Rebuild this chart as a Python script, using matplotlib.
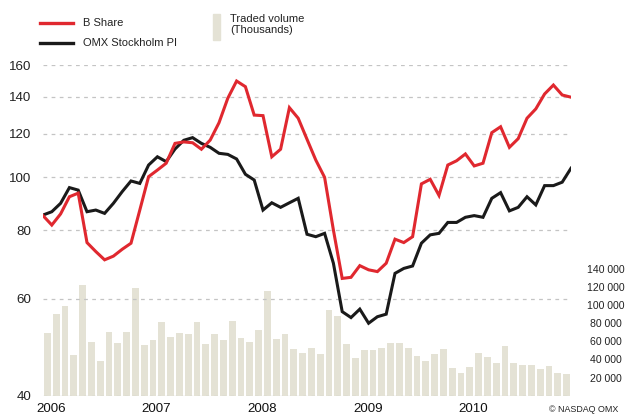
# *****************************************************************************

import matplotlib
matplotlib.use('Agg')

import numpy as np
import matplotlib.pyplot as plt
from matplotlib.lines import Line2D
from matplotlib.patches import Rectangle
from matplotlib.ticker import NullLocator

# *****************************************************************************

# Monthly values, Jan 2006 .. Jan 2011 (61 points)
B_SHARE = [85.1, 81.8, 85.7, 92.1, 93.5, 76.0, 73.2, 70.7, 71.8, 73.9,
           75.8, 87.1, 100.2, 103.0, 106.0, 115.2, 115.9, 115.5, 112.4, 116.8,
           125.6, 139.2, 149.6, 146.1, 129.7, 129.4, 108.9, 112.4, 133.8, 128.0,
           117.2, 107.4, 99.9, 80.1, 65.4, 65.7, 69.0, 67.8, 67.3, 69.7,
           77.1, 76.0, 77.9, 97.2, 99.1, 92.6, 105.2, 107.1, 110.2, 104.8,
           106.0, 120.5, 123.5, 113.3, 117.5, 128.0, 133.1, 141.7, 147.1, 141.1,
           139.8]

OMX_PI = [85.3, 86.5, 89.6, 95.7, 94.7, 86.5, 87.1, 85.9, 89.6, 94.1,
          98.4, 97.4, 105.2, 108.9, 106.7, 112.5, 116.7, 118.0, 115.2, 113.3,
          110.5, 110.0, 107.9, 101.2, 98.8, 87.1, 89.8, 88.1, 89.8, 91.5,
          78.7, 77.9, 79.0, 69.7, 56.9, 55.5, 57.5, 54.2, 55.7, 56.3,
          66.8, 68.2, 68.9, 75.8, 78.5, 79.0, 82.7, 82.7, 84.5, 85.1,
          84.5, 91.5, 93.7, 86.8, 88.1, 92.1, 89.0, 96.5, 96.5, 97.9,
          103.8]

# Traded volume per month (60 bars)
VOLUME = [69500, 90300, 99100, 45300, 122200, 59600, 38700, 70500, 58500, 70500,
          118900, 56300, 61800, 81500, 65100, 69500, 68400, 81500, 57400, 68400,
          61800, 82600, 64000, 59600, 72700, 115600, 62900, 68400, 51900, 47500,
          53000, 46400, 94700, 88100, 57400, 42000, 50800, 50800, 53000, 58500,
          58500, 53000, 44200, 38700, 46400, 51900, 31000, 25500, 32100, 47500,
          43100, 36500, 55200, 36500, 34300, 34300, 29900, 33200, 25500, 24400]

YEARS = ['2006', '2007', '2008', '2009', '2010']
LEFT_TICKS = [40, 60, 80, 100, 120, 140, 160]
RIGHT_TICKS = [20000, 40000, 60000, 80000, 100000, 120000, 140000]

RED = '#e0282f'
BLACK = '#1a1a1a'
BEIGE = '#e4e2d5'
GRID = '#c4c4c4'

# *****************************************************************************


def make_fig():

    plt.rcParams['font.family'] = ['Liberation Sans', 'DejaVu Sans']

    fig01 = plt.figure(figsize=(6.26, 4.17), dpi=100)

    W, H = 626.0, 417.0
    axs01 = fig01.add_axes([43/W, 1-395.7/H, (571-43)/W, (395.7-65)/H])
    axs02 = axs01.twinx()

    # Volume bars (right axis)
    xbar = np.arange(len(VOLUME)) + 0.5
    axs02.bar(xbar, VOLUME, width=0.76, color=BEIGE, linewidth=0)
    axs02.set_ylim(0, 364000)
    axs02.set_yticks(RIGHT_TICKS)
    axs02.set_yticklabels(['{:,}'.format(v).replace(',', ' ')
                           for v in RIGHT_TICKS])
    axs02.tick_params(axis='y', length=0, pad=25, labelsize=7.6,
                      colors='#222222')
    for lab in axs02.get_yticklabels():
        lab.set_ha('center')

    # Price lines (left log axis)
    axs01.set_zorder(axs02.get_zorder() + 1)
    axs01.patch.set_visible(False)

    xln = np.arange(len(B_SHARE))
    axs01.plot(xln, OMX_PI, color=BLACK, lw=2.2, solid_joinstyle='miter')
    axs01.plot(xln, B_SHARE, color=RED, lw=2.2, solid_joinstyle='miter')

    axs01.set_yscale('log')
    axs01.set_ylim(40, 160)
    axs01.set_yticks(LEFT_TICKS)
    axs01.set_yticklabels([str(v) for v in LEFT_TICKS])
    axs01.yaxis.set_minor_locator(NullLocator())
    axs01.set_xlim(0, 60)
    axs01.set_xticks([12*k + 0.9 for k in range(len(YEARS))])
    axs01.set_xticklabels(YEARS)

    axs01.tick_params(axis='y', length=0, pad=8.5, labelsize=9.6,
                      colors='#222222')
    axs01.tick_params(axis='x', length=0, pad=5, labelsize=9.6,
                      colors='#111111')

    axs01.grid(visible=True, axis='y', which='major', color=GRID, lw=0.9,
               ls=(0, (3, 3.5)))
    axs01.grid(visible=False, axis='x')

    for axs in (axs01, axs02):
        for spn in axs.spines.values():
            spn.set_visible(False)

    # Legend, drawn by hand
    fig01.add_artist(Line2D([40/W, 73/W], [1-22.5/H, 1-22.5/H], color=RED,
                            lw=2.4, transform=fig01.transFigure))
    fig01.add_artist(Line2D([40/W, 73/W], [1-42.5/H, 1-42.5/H], color=BLACK,
                            lw=2.4, transform=fig01.transFigure))
    fig01.text(83/W, 1-22.5/H, 'B Share', fontsize=8, va='center',
               color='#222222')
    fig01.text(83/W, 1-42.5/H, 'OMX Stockholm PI', fontsize=8, va='center',
               color='#222222')
    fig01.add_artist(Rectangle((213/W, 1-40/H), 7/W, 26/H, color=BEIGE,
                               transform=fig01.transFigure))
    fig01.text(230/W, 1-14/H, 'Traded volume\n(Thousands)', fontsize=8,
               va='top', linespacing=1.1, color='#222222')

    fig01.text(618/W, 1-410/H, '\u00a9 NASDAQ OMX', fontsize=6.4,
               ha='right', va='center', color='#222222')

    plt.savefig('out.png', dpi=100)
    plt.close()

    return None

# *****************************************************************************


if (__name__ == "__main__"):

    make_fig()

# *****************************************************************************
